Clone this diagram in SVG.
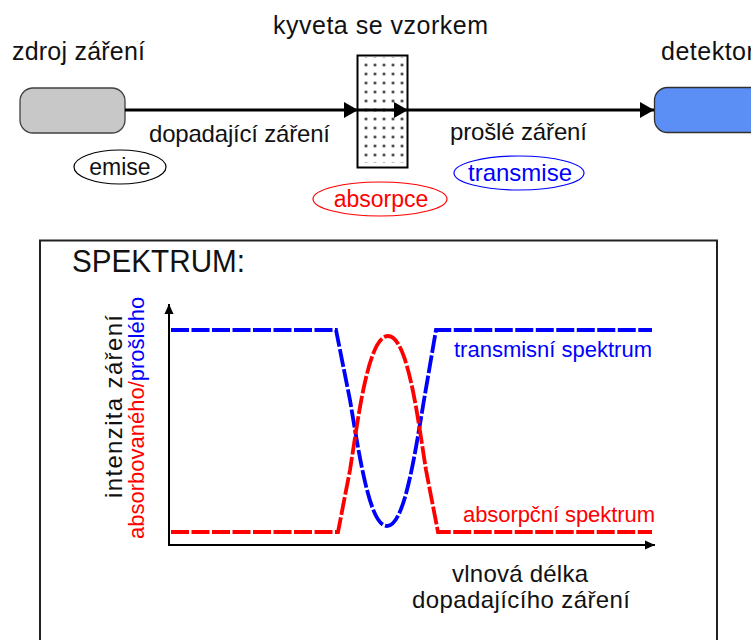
<svg xmlns="http://www.w3.org/2000/svg" width="751" height="640" viewBox="0 0 751 640">
<style>
  text { font-family: "Liberation Sans", Arial, sans-serif; fill: #111; }
  .lbl { font-size: 25px; }
  .red { fill: #ff0000; }
  .blue { fill: #0000ff; }
  .conn { stroke: #000; stroke-width: 3; fill: none; }
  .axis { stroke: #000; stroke-width: 2; fill: none; }
  .spec { stroke-width: 3.8; fill: none; stroke-dasharray: 18 2.5; }
</style>
<defs>
  <marker id="arr" viewBox="0 0 14 16" refX="14" refY="8" markerWidth="14" markerHeight="16" markerUnits="userSpaceOnUse" orient="auto">
    <path d="M0,0 L14,8 L0,16 Z" fill="#000"/>
  </marker>
  <marker id="axarr" viewBox="0 0 10 10" refX="10" refY="5" markerWidth="10" markerHeight="10" markerUnits="userSpaceOnUse" orient="auto">
    <path d="M0,0.5 L10,5 L0,9.5 Z" fill="#000"/>
  </marker>
  <pattern id="dots" x="361.5" y="60.5" width="9" height="9" patternUnits="userSpaceOnUse">
    <circle cx="4.5" cy="4.5" r="1.3" fill="#000"/>
  </pattern>
</defs>
<rect width="751" height="640" fill="#fff"/>

<g id="source">
  <rect x="20" y="88" width="105" height="45" rx="13" fill="#c8c8c8" stroke="#404040" stroke-width="1.3"/>
  <text class="lbl" x="12" y="60" textLength="133" lengthAdjust="spacing">zdroj záření</text>
</g>

<g id="cuvette">
  <rect x="357.5" y="55.5" width="50" height="112" fill="#fff" stroke="#000" stroke-width="2"/>
  <rect x="359" y="57" width="47" height="106" fill="url(#dots)"/>
  <text class="lbl" x="273" y="34" textLength="215" lengthAdjust="spacing">kyveta se vzorkem</text>
</g>

<g id="detector">
  <rect x="654.5" y="87.5" width="110" height="45" rx="13" fill="#5b8ff5" stroke="#303030" stroke-width="1.3"/>
  <text class="lbl" x="661" y="60" letter-spacing="0.5">detektor</text>
</g>

<g id="connectors">
  <line class="conn" x1="125" y1="110" x2="358" y2="110" marker-end="url(#arr)"/>
  <line class="conn" x1="358" y1="110" x2="408" y2="110" marker-end="url(#arr)"/>
  <line class="conn" x1="408" y1="110" x2="654" y2="110" marker-end="url(#arr)"/>
</g>

<g id="beam-labels">
  <text x="149" y="142" font-size="24" textLength="181" lengthAdjust="spacing">dopadající záření</text>
  <text x="450" y="140" font-size="24" textLength="137" lengthAdjust="spacing">prošlé záření</text>
</g>

<g id="emise">
  <ellipse cx="120" cy="167" rx="46" ry="17" fill="#fff" stroke="#000" stroke-width="1.2"/>
  <text x="120" y="175" font-size="23" text-anchor="middle">emise</text>
</g>

<g id="absorpce">
  <ellipse cx="380" cy="199" rx="67" ry="17" fill="#fff" stroke="#ff0000" stroke-width="1.2"/>
  <text class="red" x="381" y="207" font-size="23" text-anchor="middle">absorpce</text>
</g>

<g id="transmise">
  <ellipse cx="519" cy="173" rx="65" ry="17" fill="#fff" stroke="#0000ff" stroke-width="1.2"/>
  <text class="blue" x="520" y="181" font-size="24" text-anchor="middle">transmise</text>
</g>

<g id="spektrum-panel">
  <rect x="40" y="240.5" width="677" height="420" fill="none" stroke="#222" stroke-width="2"/>
  <text x="72" y="272" font-size="31" textLength="173" lengthAdjust="spacingAndGlyphs">SPEKTRUM:</text>

  <line class="axis" x1="169" y1="545" x2="169" y2="304" marker-end="url(#axarr)"/>
  <line class="axis" x1="168" y1="545" x2="655" y2="545" marker-end="url(#axarr)"/>

  <path class="spec" stroke="#0000ff" d="M171,330 L336,330 L350,400 C360,460 370,526 387,526 C404,526 414,460 424,400 L436,330 L652,330"/>
  <path class="spec" stroke="#ff0000" d="M171,532 L338,532 L350,470 C358,420 368,336 388,336 C408,336 418,420 426,470 L438,532 L652,532"/>

  <text class="blue" x="454" y="357" font-size="22" textLength="198" lengthAdjust="spacing">transmisní spektrum</text>
  <text class="red" x="463" y="522" font-size="22" textLength="192" lengthAdjust="spacing">absorpční spektrum</text>

  <text transform="rotate(-90)" x="-498" y="122" font-size="24" textLength="183" lengthAdjust="spacing">intenzita záření</text>
  <text transform="rotate(-90)" x="-539" y="144" font-size="22"><tspan class="red">absorbovaného/</tspan><tspan class="blue">prošlého</tspan></text>

  <text x="452" y="582" font-size="24" textLength="136" lengthAdjust="spacing">vlnová délka</text>
  <text x="412" y="608" font-size="24" textLength="218" lengthAdjust="spacing">dopadajícího záření</text>
</g>
</svg>
